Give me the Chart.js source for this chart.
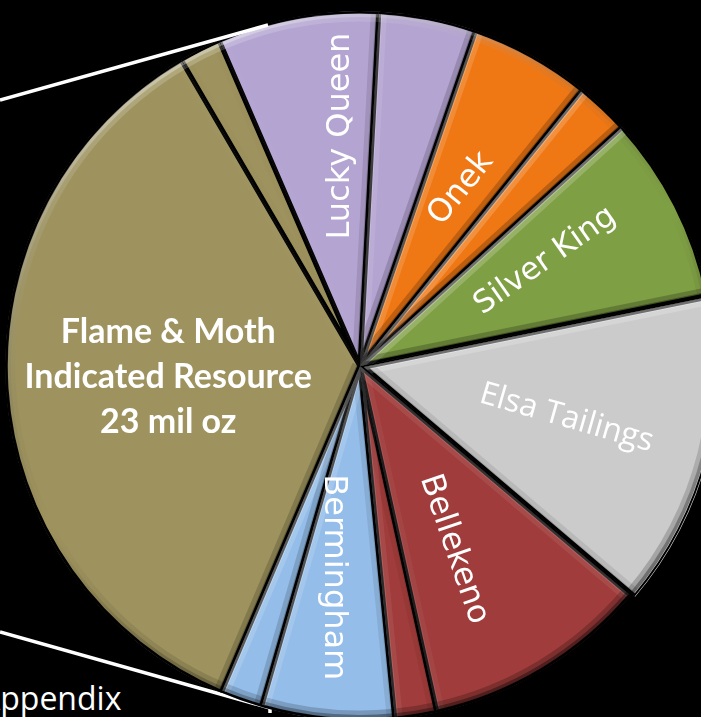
<!DOCTYPE html>
<html>
<head>
<meta charset="utf-8">
<title>Resource pie</title>
<script src="https://cdn.jsdelivr.net/npm/chart.js@4/dist/chart.umd.min.js"></script>
<style>
  html, body { margin: 0; padding: 0; background: #000; overflow: hidden; }
  body { width: 701px; height: 717px; position: relative; }
  svg { position: absolute; left: 0; top: 0; }
  #pie { position: absolute; left: -40px; top: -34px; }
</style>
</head>
<body>
<svg width="701" height="717">
  <polyline points="0,632 270,708 270,713" fill="none" stroke="#fff" stroke-width="3.5"/>
  <text x="-20" y="710" fill="#fff" font-family="Open Sans" font-size="32">Appendix</text>
</svg>
<canvas id="pie" width="800" height="800"></canvas>
<svg width="701" height="717" style="pointer-events:none">
  <line x1="0" y1="100" x2="268" y2="25" stroke="#fff" stroke-width="3.5"/>
</svg>
<script>
// Deposits, clockwise from the Lucky Queen slice (silver, mil oz)
const deposits = ['Lucky Queen', 'Lucky Queen (2)', 'Onek', 'Onek (2)', 'Silver King',
    'Elsa Tailings', 'Bellekeno', 'Bellekeno (2)', 'Bermingham', 'Bermingham (2)',
    'Flame & Moth', 'Flame & Moth (2)'];
const ounces = [4.8, 2.9, 3.6, 1.6, 5.6, 9.4, 6.75, 1.25, 3.95, 1.25, 23.0, 1.25];
const sliceText = ['Lucky Queen', '', 'Onek', '', 'Silver King', 'Elsa Tailings', 'Bellekeno', '',
    'Bermingham', '', 'Flame & Moth\nIndicated Resource\n23 mil oz', ''];

const baseColors = ['#b4a4d2', '#b4a4d2', '#f07814', '#f07814', '#7f9f44', '#cbcbcb',
    '#a03c3b', '#a03c3b', '#94bde9', '#94bde9', '#9e935e', '#9e935e'];

const PIE_R = 355;
const BORDER = 2.5;
const VERD = 'Verdana, "DejaVu Sans", sans-serif';

// label placement: angle shift from slice middle (deg), distance (fraction of radius), text rotation
const labelLayout = {
    0: { shift: 5.5, dist: 0.65, rot: -90, font: '32px ' + VERD },
    2: { shift: 0.8, dist: 0.575, rot: -51, font: '32px ' + VERD },
    4: { shift: -2.6, dist: 0.6, rot: -35, font: '31px ' + VERD },
    5: { shift: -0.3, dist: 0.6, rot: 16, font: '32px "Open Sans"' },
    6: { shift: 4, dist: 0.58, rot: 71, font: '32px ' + VERD },
    8: { shift: 2, dist: 0.6, rot: 90, font: '32px ' + VERD },
    10: { shift: 0.4, dist: 0.541, rot: 0, font: 'bold 34px Lato', lineH: 45 }
};

// light comes from the upper left
const LIGHT = [-0.45, -0.89];

function shadeFor(d, k) {
    const a = Math.min(Math.abs(d), 1) * k;
    return d > 0 ? `rgba(255,255,255,${0.4 * a})` : `rgba(0,0,0,${0.45 * a})`;
}

// bevelled edges like the Office 3-D pie
const bevelEdges = {
    id: 'bevelEdges',
    afterDatasetDraw(chart) {
        const ctx = chart.ctx;
        chart.getDatasetMeta(0).data.forEach((arc) => {
            const p = arc.getProps(['x', 'y', 'startAngle', 'endAngle', 'outerRadius'], true);
            const mid = (p.startAngle + p.endAngle) / 2;
            const off = (arc.options.offset || 0) / 4;
            const cx = p.x + Math.cos(mid) * off, cy = p.y + Math.sin(mid) * off;
            const R = p.outerRadius - BORDER;
            const s = p.startAngle, e = p.endAngle;
            ctx.save();
            ctx.beginPath();
            ctx.moveTo(cx, cy);
            ctx.arc(cx, cy, R, s, e);
            ctx.closePath();
            ctx.clip();
            const edges = [
                { ang: s, n: [Math.sin(s), -Math.cos(s)] },
                { ang: e, n: [-Math.sin(e), Math.cos(e)] }
            ];
            [[16, 0.5], [7, 0.8]].forEach(([w, k]) => {
                ctx.lineWidth = w;
                edges.forEach(ed => {
                    ctx.strokeStyle = shadeFor(ed.n[0] * LIGHT[0] + ed.n[1] * LIGHT[1], k);
                    ctx.beginPath();
                    ctx.moveTo(cx, cy);
                    ctx.lineTo(cx + Math.cos(ed.ang) * (R + 10), cy + Math.sin(ed.ang) * (R + 10));
                    ctx.stroke();
                });
                const g = ctx.createLinearGradient(cx + LIGHT[0] * R, cy + LIGHT[1] * R,
                    cx - LIGHT[0] * R, cy - LIGHT[1] * R);
                g.addColorStop(0, shadeFor(1, k));
                g.addColorStop(0.5, 'rgba(0,0,0,0)');
                g.addColorStop(1, shadeFor(-1, k));
                ctx.strokeStyle = g;
                ctx.beginPath();
                ctx.arc(cx, cy, R, s, e);
                ctx.stroke();
            });
            ctx.restore();
        });
    }
};

const sliceLabels = {
    id: 'sliceLabels',
    afterDatasetsDraw(chart) {
        const ctx = chart.ctx;
        chart.getDatasetMeta(0).data.forEach((arc, i) => {
            const spec = labelLayout[i];
            if (!spec || !sliceText[i]) return;
            const p = arc.getProps(['x', 'y', 'startAngle', 'endAngle', 'outerRadius'], true);
            const a = (p.startAngle + p.endAngle) / 2 + spec.shift * Math.PI / 180;
            const r = p.outerRadius * spec.dist;
            const lines = sliceText[i].split('\n');
            ctx.save();
            ctx.translate(p.x + Math.cos(a) * r, p.y + Math.sin(a) * r);
            ctx.rotate(spec.rot * Math.PI / 180);
            ctx.font = spec.font;
            ctx.fillStyle = '#fff';
            ctx.textAlign = 'center';
            ctx.textBaseline = 'middle';
            const lh = spec.lineH || 0;
            lines.forEach((t, k) => ctx.fillText(t, 0, (k - (lines.length - 1) / 2) * lh));
            ctx.restore();
        });
    }
};

new Chart(document.getElementById('pie'), {
    type: 'pie',
    data: {
        labels: deposits,
        datasets: [{
            data: ounces,
            backgroundColor: baseColors,
            borderColor: '#000',
            borderWidth: BORDER,
            borderAlign: 'inner',
            offset: [0, 0, 0, 0, 0, 16, 0, 0, 0, 0, 0, 0]
        }]
    },
    options: {
        responsive: false,
        animation: false,
        rotation: -23.4,
        radius: PIE_R,
        plugins: { legend: { display: false }, tooltip: { enabled: false } }
    },
    plugins: [bevelEdges, sliceLabels]
});
</script>
</body>
</html>
